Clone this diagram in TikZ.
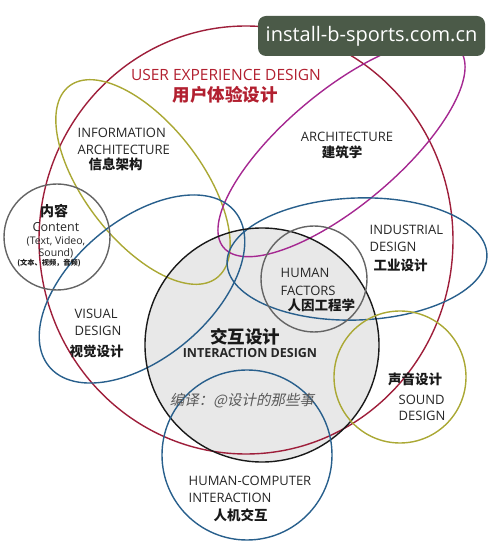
\documentclass[tikz,border=0pt]{standalone}
\usepackage{fontspec}
\setmainfont{Open Sans}
\newfontfamily\cjk{Noto Sans CJK SC}
\newfontfamily\cjkit{Noto Sans CJK SC}[FakeSlant=0.2]
\definecolor{uxred}{RGB}{158,30,58}
\definecolor{titlered}{RGB}{178,32,48}
\definecolor{olivec}{RGB}{170,168,52}
\definecolor{magentac}{RGB}{165,40,145}
\definecolor{bluec}{RGB}{40,95,140}
\definecolor{grayc}{RGB}{100,100,100}
\definecolor{icfill}{RGB}{232,232,232}
\definecolor{wmbg}{RGB}{75,90,72}
\begin{document}
\begin{tikzpicture}[x=1pt,y=1pt,line width=1.4pt,
  lab/.style={font=\fontsize{13}{15}\selectfont,inner sep=0pt,text=black!85},
  smalllab/.style={font=\fontsize{10.5}{12}\selectfont,inner sep=0pt,text=black!85},
  cjklab/.style={font=\cjk\bfseries\fontsize{13.5}{15}\selectfont,inner sep=0pt,text=black!90}]
\useasboundingbox (0,0) rectangle (500,544);
% interaction design fill
\fill[icfill] (262,199) circle[radius=117];
% shapes
\draw[uxred] (246,304) ellipse[x radius=207, y radius=214];
\draw[olivec, rotate around={-52.4:(143,362)}] (143,362) ellipse[x radius=121, y radius=58.5];
\draw[magentac, rotate around={40:(341.5,395.5)}] (341.5,395.5) ellipse[x radius=154, y radius=57];
\draw[bluec, rotate around={40:(142,255)}] (142,255) ellipse[x radius=121, y radius=69];
\draw[bluec, rotate around={2:(357,285)}] (357,285) ellipse[x radius=130, y radius=61];
\draw[grayc] (57,307) circle[radius=53];
\draw[black!90] (262,199) circle[radius=117];
\draw[grayc] (314,265) circle[radius=53];
\draw[olivec] (400,167) circle[radius=66];
\draw[bluec] (247,89) circle[radius=85];
% texts
\node[inner sep=0pt,text=titlered,font=\fontsize{15.5}{18}\selectfont] (uxt) at (226,469) {USER EXPERIENCE DESIGN};
\node[inner sep=0pt,text=titlered,font=\cjk\bfseries\fontsize{17.5}{20}\selectfont] (uxc) at (225,449) {用户体验设计};
\node[lab,anchor=west] (ia1) at (77,411) {INFORMATION};
\node[lab,anchor=west] (ia2) at (77,394) {ARCHITECTURE};
\node[cjklab,anchor=west] (ia3) at (88,380) {信息架构};
\node[lab] (ar1) at (347,407) {ARCHITECTURE};
\node[cjklab] (ar2) at (342,392) {建筑学};
\node[cjklab,font=\cjk\bfseries\fontsize{14}{15}\selectfont] (ct1) at (54,333) {内容};
\node[lab,font=\fontsize{12.5}{14}\selectfont] (ct2) at (56,317) {Content};
\node[smalllab] (ct3) at (56,303) {(Text, Video,};
\node[smalllab] (ct4) at (56,291) {Sound)};
\node[cjklab,font=\cjk\bfseries\fontsize{7.2}{8}\selectfont] (ct5) at (49,281) {(文本、视频，音频)};
\node[lab,anchor=west] (id1) at (369,314) {INDUSTRIAL};
\node[lab,anchor=west] (id2) at (369,297) {DESIGN};
\node[cjklab,anchor=west] (id3) at (373,279) {工业设计};
\node[lab,anchor=west] (hf1) at (280,271) {HUMAN};
\node[lab,anchor=west] (hf2) at (280,253) {FACTORS};
\node[cjklab,anchor=west] (hf3) at (287,239) {人因工程学};
\node[lab,anchor=west] (vd1) at (74,230) {VISUAL};
\node[lab,anchor=west] (vd2) at (74,213) {DESIGN};
\node[cjklab,anchor=west] (vd3) at (69,193) {视觉设计};
\node[cjklab,font=\cjk\bfseries\fontsize{17.5}{20}\selectfont] (ix1) at (245,207) {交互设计};
\node[lab,font=\bfseries\fontsize{12.5}{15}\selectfont] (ix2) at (250,191) {INTERACTION DESIGN};
\node[inner sep=0pt,text=black!65,font=\cjkit\fontsize{14.5}{16}\selectfont] (cr) at (242,143) {编译：@设计的那些事};
\node[cjklab] (sd1) at (415,165) {声音设计};
\node[lab,anchor=west] (sd2) at (398,144) {SOUND};
\node[lab,anchor=west] (sd3) at (398,128) {DESIGN};
\node[lab,anchor=west] (hc1) at (188,63) {HUMAN-COMPUTER};
\node[lab,anchor=west] (hc2) at (188,46) {INTERACTION};
\node[cjklab,anchor=west] (hc3) at (213,29) {人机交互};
% watermark
\node[fill=wmbg,rounded corners=8pt,minimum width=227pt,minimum height=40pt,inner sep=0pt,text=white,font=\fontsize{20}{22}\selectfont] (wm) at (371.5,508) {install-b-sports.com.cn};
\end{tikzpicture}
\end{document}
